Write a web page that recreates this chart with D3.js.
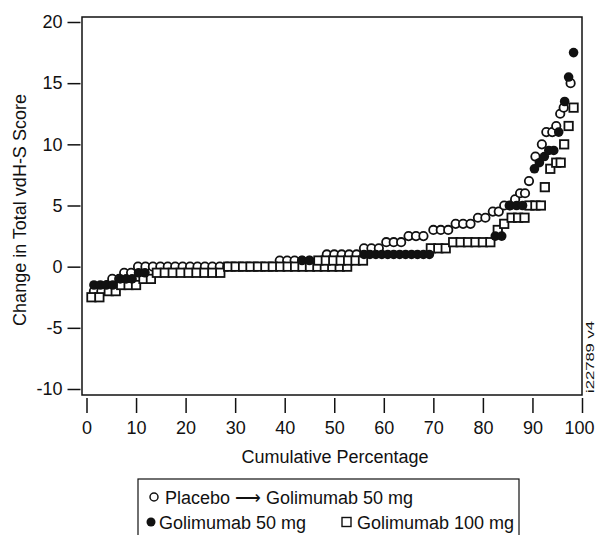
<!DOCTYPE html>
<html>
<head>
<meta charset="utf-8">
<script src="https://cdn.jsdelivr.net/npm/d3@7"></script>
<style>
  body { margin: 0; background: #fff; }
  svg { display: block; font-family: "Liberation Sans", Arial, Helvetica, sans-serif; }
</style>
</head>
<body>
<div id="chart"></div>
<script>
// Cumulative percentage (x) vs change in total vdH-S score (y)
const placeboPts = [
  [1.5, -2], [3, -2], [4.2, -1.5], [5.2, -1], [6.6, -1], [7.6, -0.5], [9, -0.5],
  [10.4, 0], [11.9, 0], [13.4, 0], [14.9, 0], [16.4, 0], [17.9, 0], [19.4, 0], [20.9, 0],
  [22.4, 0], [23.9, 0], [25.4, 0], [26.9, 0], [28.4, 0], [29.9, 0], [31.4, 0], [32.9, 0],
  [34.4, 0], [35.9, 0], [37.4, 0],
  [39, 0.5], [40.5, 0.5], [42, 0.5], [43.5, 0.5], [45, 0.5],
  [48.5, 1], [50, 1], [51.5, 1], [53, 1], [54.5, 1],
  [56, 1.5], [57.5, 1.5], [59, 1.5],
  [60.5, 2], [62, 2], [63.5, 2],
  [65, 2.5], [66.5, 2.5], [68, 2.5],
  [70, 3], [71.5, 3], [73, 3],
  [74.5, 3.5], [76, 3.5], [77.5, 3.5],
  [79, 4], [80.5, 4], [82, 4.5], [83.2, 4.5], [84.3, 5], [85.4, 5], [86.5, 5.5],
  [87.5, 6], [88.5, 6], [89.3, 7], [90.6, 9], [91.9, 10], [92.8, 11], [94, 11],
  [94.8, 11.5], [95.6, 12.5], [96.3, 13], [97.7, 15]
];

const gol50Pts = [
  [1.5, -1.5], [2.8, -1.5], [4, -1.5], [5.3, -1.5], [6.8, -1], [8, -1], [9.2, -1],
  [10.5, -0.5], [11.8, -0.5],
  [43.5, 0.5], [45, 0.5],
  [56, 1], [57.2, 1], [58.4, 1], [59.6, 1], [60.8, 1], [62, 1], [63.2, 1], [64.4, 1],
  [65.6, 1], [66.8, 1], [68, 1], [69.2, 1],
  [82.5, 2.5], [83.8, 2.5],
  [85.5, 5], [86.8, 5], [88, 5],
  [90.4, 8], [91.4, 8.5], [92.4, 9], [93.3, 9.5], [94.3, 9.5], [95.3, 11],
  [96.5, 13.5], [97.3, 15.5], [98.3, 17.5]
];

const gol100Pts = [
  [1, -2.5], [2.6, -2.5], [4.5, -2], [5.9, -2],
  [7, -1.5], [8.5, -1.5], [10, -1.5], [11.5, -1], [13, -1],
  [14.2, -0.5], [15.8, -0.5], [17.4, -0.5], [19, -0.5], [20.6, -0.5], [22.2, -0.5],
  [23.8, -0.5], [25.4, -0.5], [27, -0.5],
  [28.6, 0], [30.1, 0], [31.6, 0], [33.1, 0], [34.6, 0], [36.1, 0], [37.6, 0], [39.1, 0],
  [40.6, 0], [42.1, 0], [43.6, 0], [45.1, 0], [46.6, 0], [48.1, 0], [49.6, 0], [51.1, 0], [52.6, 0],
  [46.8, 0.5], [48.3, 0.5], [49.8, 0.5], [51.3, 0.5], [52.8, 0.5], [54.3, 0.5], [55.8, 0.5],
  [69.5, 1.5], [71, 1.5], [72.5, 1.5],
  [74, 2], [75.5, 2], [77, 2], [78.5, 2], [80, 2], [81.5, 2],
  [83, 3], [84.3, 3.5], [85.8, 4], [87.1, 4], [88.4, 4],
  [89.4, 5], [90.6, 5], [91.7, 5], [92.5, 6.5], [93.6, 8], [94.8, 8.5], [95.7, 8.5],
  [96.4, 10], [97.3, 11.5], [98.3, 13]
];

const xTicks = [0, 10, 20, 30, 40, 50, 60, 70, 80, 90, 100];
const yTicks = [-10, -5, 0, 5, 10, 15, 20];
const legendLabels = ['Placebo \u27F6 Golimumab 50 mg', 'Golimumab 50 mg', 'Golimumab 100 mg'];

const width = 596, height = 535;
const box = { left: 82, right: 582, top: 17, bottom: 395 };
const ink = '#111';
const fontSize = 18;

const svg = d3.select('#chart')
  .append('svg')
  .attr('width', width)
  .attr('height', height);

const x = d3.scaleLinear().domain([0, 100]).range([86.5, 582]);
const y = d3.scaleLinear().domain([-10, 20]).range([389, 22]);

// plot frame
svg.append('rect')
  .attr('x', box.left)
  .attr('y', box.top)
  .attr('width', box.right - box.left)
  .attr('height', box.bottom - box.top)
  .attr('fill', 'none')
  .attr('stroke', ink)
  .attr('stroke-width', 1.5);

// axes, ticks detached from the frame
const plainNum = d => String(d);

const yAxis = svg.append('g')
  .attr('transform', `translate(${box.left - 1.5},0)`)
  .call(d3.axisLeft(y).tickValues(yTicks).tickFormat(plainNum).tickSize(13).tickPadding(5));

const xAxis = svg.append('g')
  .attr('transform', `translate(0,${box.bottom + 3})`)
  .call(d3.axisBottom(x).tickValues(xTicks).tickFormat(plainNum).tickSize(15).tickPadding(8));

[yAxis, xAxis].forEach(g => {
  g.select('.domain').remove();
  g.selectAll('.tick line').attr('stroke', ink).attr('stroke-width', 1.5);
  g.selectAll('.tick text')
    .attr('fill', ink)
    .style('font-size', fontSize + 'px')
    .style('font-family', '"Liberation Sans", Arial, sans-serif');
});

// last x label sits against the page edge; nudge it inside
xAxis.selectAll('.tick text')
  .filter(d => d === 100)
  .attr('dx', -3);

// axis titles
svg.append('text')
  .attr('transform', `translate(20,${(box.top + box.bottom) / 2 + 4}) rotate(-90)`)
  .attr('text-anchor', 'middle')
  .attr('dominant-baseline', 'central')
  .attr('font-size', fontSize)
  .attr('fill', ink)
  .text('Change in Total vdH-S Score');

svg.append('text')
  .attr('x', (box.left + box.right) / 2 + 3)
  .attr('y', 463)
  .attr('text-anchor', 'middle')
  .attr('font-size', fontSize)
  .attr('fill', ink)
  .text('Cumulative Percentage');

// figure id on the right edge
svg.append('text')
  .attr('transform', 'translate(594,393) rotate(-90)')
  .attr('font-size', 10)
  .attr('fill', ink)
  .attr('textLength', 72)
  .attr('lengthAdjust', 'spacingAndGlyphs')
  .text('i22789 v4');

// markers
const r = 4.2, sq = 8.4, sw = 1.8;

svg.append('g')
  .selectAll('circle')
  .data(placeboPts)
  .enter()
  .append('circle')
  .attr('cx', d => x(d[0]))
  .attr('cy', d => y(d[1]))
  .attr('r', r)
  .attr('fill', '#fff')
  .attr('stroke', ink)
  .attr('stroke-width', sw);

svg.append('g')
  .selectAll('rect')
  .data(gol100Pts)
  .enter()
  .append('rect')
  .attr('x', d => x(d[0]) - sq / 2)
  .attr('y', d => y(d[1]) - sq / 2)
  .attr('width', sq)
  .attr('height', sq)
  .attr('fill', '#fff')
  .attr('stroke', ink)
  .attr('stroke-width', sw);

svg.append('g')
  .selectAll('circle')
  .data(gol50Pts)
  .enter()
  .append('circle')
  .attr('cx', d => x(d[0]))
  .attr('cy', d => y(d[1]))
  .attr('r', r + 0.6)
  .attr('fill', ink);

// legend
const lg = svg.append('g');
lg.append('rect')
  .attr('x', 138)
  .attr('y', 479)
  .attr('width', 381)
  .attr('height', 80)
  .attr('fill', 'none')
  .attr('stroke', ink)
  .attr('stroke-width', 1.2);

lg.append('circle')
  .attr('cx', 154).attr('cy', 497).attr('r', 4)
  .attr('fill', '#fff').attr('stroke', ink).attr('stroke-width', 1.5);
lg.append('text')
  .attr('x', 165).attr('y', 503.5)
  .attr('font-size', fontSize).attr('fill', ink)
  .text(legendLabels[0]);

lg.append('circle')
  .attr('cx', 151).attr('cy', 522).attr('r', 4.5)
  .attr('fill', ink);
lg.append('text')
  .attr('x', 159).attr('y', 528.5)
  .attr('font-size', fontSize).attr('fill', ink)
  .text(legendLabels[1]);

lg.append('rect')
  .attr('x', 342).attr('y', 517.5).attr('width', 9).attr('height', 9)
  .attr('fill', '#fff').attr('stroke', ink).attr('stroke-width', 1.4);
lg.append('text')
  .attr('x', 357).attr('y', 528.5)
  .attr('font-size', fontSize).attr('fill', ink)
  .text(legendLabels[2]);
</script>
</body>
</html>
